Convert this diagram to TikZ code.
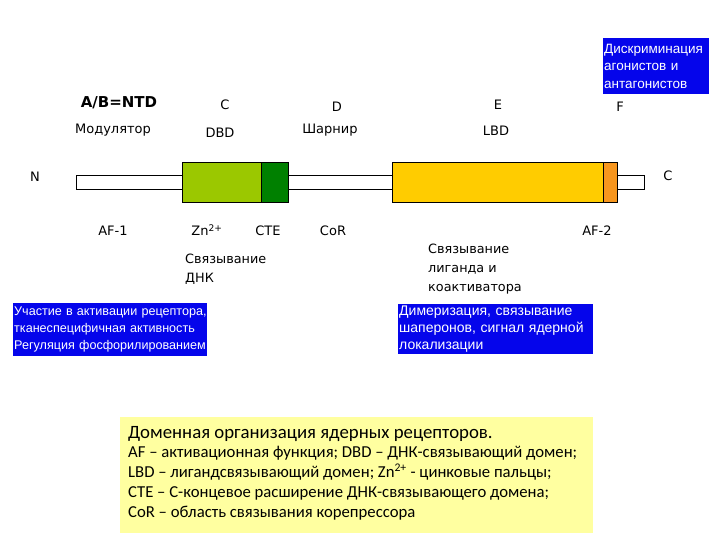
\documentclass[tikz,border=0pt]{standalone}
\usepackage{fontspec}
\setmainfont{Carlito}
\newfontfamily\lblfont{DejaVu Sans}
\newfontfamily\boxfont{Liberation Sans}
\definecolor{lgreen}{RGB}{155,200,0}
\definecolor{dgreen}{RGB}{0,128,0}
\definecolor{lbdyellow}{RGB}{255,204,0}
\definecolor{forange}{RGB}{247,150,30}
\definecolor{bluebg}{RGB}{5,5,235}
\definecolor{capbg}{RGB}{255,255,160}
\begin{document}
\begin{tikzpicture}[x=1pt,y=-1pt,
  lbl/.style={font=\lblfont\fontsize{13}{15}\selectfont, inner sep=0pt},
  cal/.style={font=\fontsize{16.7}{19.7}\selectfont, inner sep=0pt, align=left},
  bluebox/.style={fill=bluebg, text=white, inner sep=0pt, align=left},
  dom/.style={draw=black, line width=0.8pt}]
\useasboundingbox (0,0) rectangle (720,540);
% backbone
\draw[dom, fill=white] (76,175) rectangle (644,189);
% domains
\draw[dom, fill=lgreen] (182,162) rectangle (261,202);
\draw[dom, fill=dgreen] (261,162) rectangle (288,202);
\draw[dom, fill=lbdyellow] (392,162) rectangle (603,202);
\draw[dom, fill=forange] (603,162) rectangle (617,202);
% top labels
\node[lbl, font=\lblfont\bfseries\fontsize{15}{17}\selectfont] (ntd) at (119,103) {A/B=NTD};
\node[lbl] (c) at (225,105) {C};
\node[lbl] (d) at (337,107) {D};
\node[lbl] (e) at (498,105) {E};
\node[lbl] (f) at (620,107) {F};
\node[lbl] (mod) at (113,130) {Модулятор};
\node[lbl] (dbd) at (220,133) {DBD};
\node[lbl] (hinge) at (330,130) {Шарнир};
\node[lbl] (lbd) at (496,131) {LBD};
\node[lbl] (n) at (35,177) {N};
\node[lbl] (cend) at (668,176) {C};
% bottom labels
\node[lbl] (af1) at (113,231) {AF-1};
\node[lbl] (zn) at (207,230) {Zn\textsuperscript{2+}};
\node[lbl] (cte) at (268,231) {CTE};
\node[lbl] (cor) at (333,231) {CoR};
\node[lbl] (af2) at (597,231) {AF-2};
\node[cal, anchor=north west, font=\lblfont\fontsize{12.8}{19}\selectfont] (dna) at (185,254) {Связывание\\ДНК};
\node[cal, anchor=north west, font=\lblfont\fontsize{12.8}{19}\selectfont] (lig) at (428,244) {Связывание\\лиганда и\\коактиватора};
% blue boxes
\node[bluebox, font=\boxfont\fontsize{13.5}{17.5}\selectfont, minimum width=106pt, minimum height=56pt, text width=106pt, anchor=north west] (discr) at (603,38) {\hspace*{1pt}Дискриминация\\\hspace*{1pt}агонистов и\\\hspace*{1pt}антагонистов};
\node[bluebox, font=\boxfont\fontsize{12.6}{17}\selectfont, minimum width=194pt, minimum height=53pt, text width=194pt, anchor=north west] (af1box) at (13,303) {\hspace*{1pt}Участие в активации рецептора,\\\hspace*{1pt}тканеспецифичная активность\\\hspace*{1pt}Регуляция фосфорилированием};
\node[bluebox, font=\boxfont\fontsize{14}{17}\selectfont, minimum width=195pt, minimum height=50pt, text width=195pt, anchor=north west] (dimbox) at (398,304) {\hspace*{1pt}Димеризация, связывание\\\hspace*{1pt}шаперонов, сигнал ядерной\\\hspace*{1pt}локализации};
% caption
\fill[capbg] (120,417) rectangle (593,533);
\node[cal, anchor=north west] (cap) at (128,426) {{\fontsize{18.8}{20}\selectfont Доменная организация ядерных рецепторов.}\\
AF – активационная функция; DBD – ДНК-связывающий домен;\\
LBD – лигандсвязывающий домен; Zn\textsuperscript{2+} - цинковые пальцы;\\
CTE – С-концевое расширение ДНК-связывающего домена;\\
CoR – область связывания корепрессора};
\end{tikzpicture}
\end{document}
